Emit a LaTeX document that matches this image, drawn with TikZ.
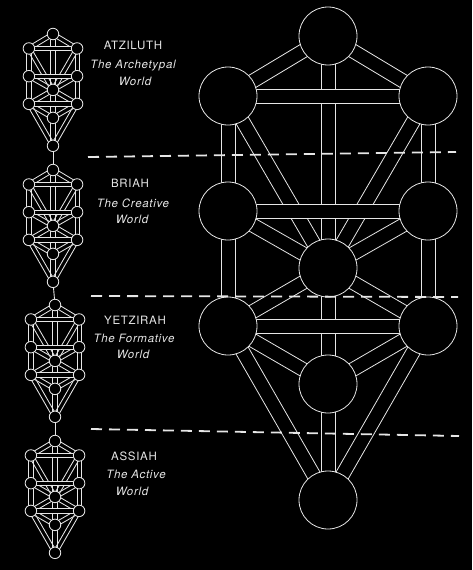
\documentclass[tikz,border=0pt]{standalone}
\usepackage{fontspec}
\usetikzlibrary{calc}
\newfontfamily\labfont[LetterSpace=6]{TeX Gyre Heros}
\definecolor{ink}{HTML}{E6E6E6}
\pgfdeclarelayer{bg}\pgfdeclarelayer{chan}\pgfdeclarelayer{hchan}
\pgfsetlayers{bg,chan,hchan,main}
\tikzset{
 sph/.style={circle, draw=ink, fill=black, inner sep=0pt},
 chanline/.style={draw=ink},
 worlddash/.style={draw=ink, line width=1.8pt, dash pattern=on 11pt off 7pt},
 wtitle/.style={text=ink, font=\labfont\fontsize{11.5}{13}\selectfont},
 wsub/.style={text=ink, font=\labfont\itshape\fontsize{11.5}{13}\selectfont},
 link/.style={draw=ink, line width=0.9pt},
}
\newcommand\chanpath[3]{%
 \draw[chanline] ($(#1)!#3!90:(#2)$) -- ($(#2)!#3!-90:(#1)$)
                 ($(#1)!#3!-90:(#2)$) -- ($(#2)!#3!90:(#1)$);}
\newcommand\hchanpath[3]{%
 \fill[black] ($(#1)!#3!90:(#2)$) -- ($(#2)!#3!-90:(#1)$) -- ($(#2)!#3!90:(#1)$) -- ($(#1)!#3!-90:(#2)$) -- cycle;
 \chanpath{#1}{#2}{#3}}
% prefix, x, y, scale, diameter, half channel width, line width
\newcommand\sephtree[7]{%
 \begin{scope}[shift={(#2,#3)}, every node/.append style={sph, minimum size=#5, line width=#7}]
  \node (#1k)  at (0,0) {};
  \node (#1ch) at (100*#4, 60*#4) {};
  \node (#1bi) at (-100*#4, 60*#4) {};
  \node (#1he) at (100*#4, 175*#4) {};
  \node (#1ge) at (-100*#4, 175*#4) {};
  \node (#1ti) at (0, 232*#4) {};
  \node (#1ne) at (100*#4, 290*#4) {};
  \node (#1ho) at (-100*#4, 290*#4) {};
  \node (#1ye) at (0, 348*#4) {};
  \node (#1ma) at (0, 464*#4) {};
 \end{scope}
 \begin{pgfonlayer}{chan}
  \begin{scope}[line width=#7]
   \chanpath{#1k}{#1bi}{#6}
   \chanpath{#1k}{#1ch}{#6}
   \chanpath{#1k}{#1ti}{#6}
   \chanpath{#1bi}{#1ge}{#6}
   \chanpath{#1ch}{#1he}{#6}
   \chanpath{#1bi}{#1ti}{#6}
   \chanpath{#1ch}{#1ti}{#6}
   \chanpath{#1ge}{#1ti}{#6}
   \chanpath{#1he}{#1ti}{#6}
   \chanpath{#1ge}{#1ho}{#6}
   \chanpath{#1he}{#1ne}{#6}
   \chanpath{#1ho}{#1ti}{#6}
   \chanpath{#1ne}{#1ti}{#6}
   \chanpath{#1ti}{#1ye}{#6}
   \chanpath{#1ho}{#1ye}{#6}
   \chanpath{#1ne}{#1ye}{#6}
   \chanpath{#1ho}{#1ma}{#6}
   \chanpath{#1ne}{#1ma}{#6}
   \chanpath{#1ye}{#1ma}{#6}
  \end{scope}
 \end{pgfonlayer}
 \begin{pgfonlayer}{hchan}
  \begin{scope}[line width=#7]
   \hchanpath{#1bi}{#1ch}{#6}
   \hchanpath{#1ge}{#1he}{#6}
   \hchanpath{#1ho}{#1ne}{#6}
  \end{scope}
 \end{pgfonlayer}}
\begin{document}
\begin{tikzpicture}[x=1pt,y=-1pt]
\useasboundingbox (0,0) rectangle (472,570);
\begin{pgfonlayer}{bg}
 \fill[black] (0,0) rectangle (472,570);
\end{pgfonlayer}
% large tree
\sephtree{L}{328}{36}{1}{58pt}{7pt}{0.8pt}
% small trees
\sephtree{A}{53}{34}{0.241}{11.5pt}{2.1pt}{0.85pt}
\sephtree{B}{53}{170}{0.241}{11.5pt}{2.1pt}{0.85pt}
\sephtree{C}{55}{305}{0.241}{11.5pt}{2.1pt}{0.85pt}
\sephtree{D}{55}{441}{0.241}{11.5pt}{2.1pt}{0.85pt}
\draw[link] (Ama) -- (Bk);
\draw[link] (Bma) -- (Ck);
\draw[link] (Cma) -- (Dk);
% dividing lines
\coordinate (d1a) at (88,157); \coordinate (d1b) at (456,152);
\coordinate (d2a) at (91,296); \coordinate (d2b) at (458,297);
\coordinate (d3a) at (91,429); \coordinate (d3b) at (459,436);
\draw[worlddash] (d1a) -- (d1b);
\draw[worlddash] (d2a) -- (d2b);
\draw[worlddash] (d3a) -- (d3b);
% labels
\node[wtitle] (t1) at (133,45) {ATZILUTH};
\node[wsub] (s1a) at (133,66) {The Archetypal};
\node[wsub] (s1b) at (135,81) {World};
\node[wtitle] (t2) at (130,183) {BRIAH};
\node[wsub] (s2a) at (133,203) {The Creative};
\node[wsub] (s2b) at (132,219) {World};
\node[wtitle] (t3) at (135,320) {YETZIRAH};
\node[wsub] (s3a) at (134,338) {The Formative};
\node[wsub] (s3b) at (133,354) {World};
\node[wtitle] (t4) at (134,456) {ASSIAH};
\node[wsub] (s4a) at (136,474) {The Active};
\node[wsub] (s4b) at (132,491) {World};
\end{tikzpicture}
\end{document}
